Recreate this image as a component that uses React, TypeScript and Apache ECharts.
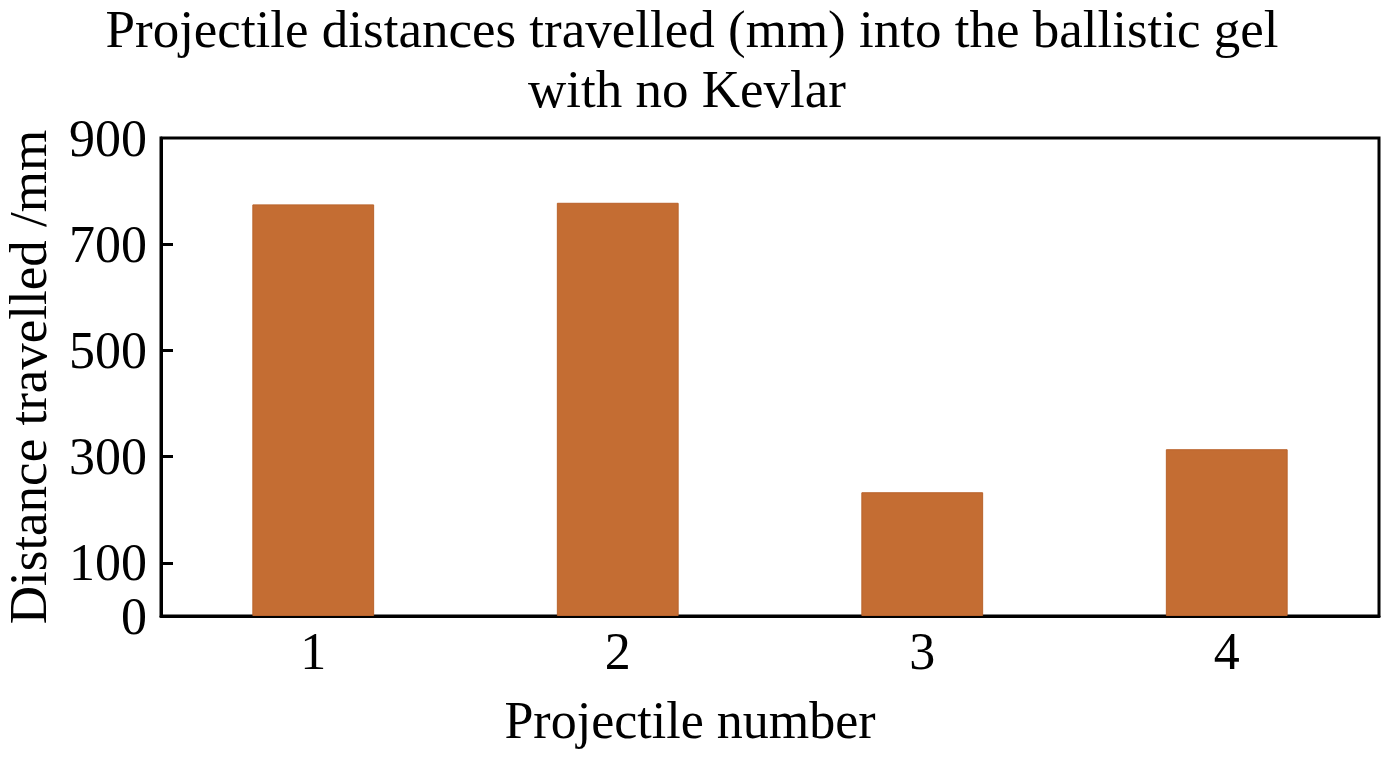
import React, { useEffect, useRef } from "react";
import * as echarts from "echarts";

const categories = ["1", "2", "3", "4"];
const distances = [775, 778, 233, 314];
const yLabelValues = [0, 100, 300, 500, 700, 900];
const yTickValues = [100, 300, 500, 700];
const titleLine1 = "Projectile distances travelled (mm) into the ballistic gel";
const titleLine2 = "with no Kevlar";
const xName = "Projectile number";
const yName = "Distance travelled /mm";

const FONT = "'Liberation Serif', 'Times New Roman', serif";

const titleStyle = {
  fontFamily: FONT,
  fontSize: 53,
  lineHeight: 48,
  fontWeight: "normal",
  color: "#000",
};

export default function App() {
  const ref = useRef<HTMLDivElement>(null);
  useEffect(() => {
    if (!ref.current) return;
    const chart = echarts.init(ref.current, undefined, { renderer: "svg" });
    chart.setOption({
      animation: false,
      backgroundColor: "#ffffff",
      title: [
        {
          text: titleLine1,
          left: 692,
          textAlign: "center",
          top: 5,
          padding: 0,
          textStyle: titleStyle,
        },
        {
          text: titleLine2,
          left: 687,
          textAlign: "center",
          top: 65,
          padding: 0,
          textStyle: titleStyle,
        },
      ],
      grid: {
        left: 161,
        right: 7,
        top: 138,
        bottom: 155,
        show: true,
        borderColor: "#000",
        borderWidth: 3,
        backgroundColor: "transparent",
        containLabel: false,
        outerBoundsMode: "none",
      },
      xAxis: {
        type: "category",
        data: categories,
        boundaryGap: true,
        name: xName,
        nameLocation: "middle",
        nameGap: 78,
        nameTextStyle: {
          fontFamily: FONT,
          fontSize: 52,
          color: "#000",
          padding: [0, 160, 0, 0],
        },
        axisLine: { show: true, lineStyle: { color: "#000", width: 3 } },
        axisTick: { show: false },
        axisLabel: {
          fontFamily: FONT,
          fontSize: 52,
          color: "#000",
          margin: 9,
        },
        splitLine: { show: false },
      },
      yAxis: {
        type: "value",
        min: 0,
        max: 900,
        interval: 100,
        name: yName,
        nameLocation: "middle",
        nameRotate: 90,
        nameGap: 107,
        nameTextStyle: {
          fontFamily: FONT,
          fontSize: 53,
          color: "#000",
        },
        axisLine: { show: true, lineStyle: { color: "#000", width: 3 } },
        axisTick: {
          show: true,
          inside: true,
          length: 12,
          lineStyle: { color: "#000", width: 3 },
          customValues: yTickValues,
        },
        axisLabel: {
          fontFamily: FONT,
          fontSize: 52,
          color: "#000",
          margin: 14,
          customValues: yLabelValues,
        },
        splitLine: { show: false },
      },
      series: [
        {
          type: "bar",
          data: distances,
          barWidth: "40%",
          itemStyle: {
            color: "#C46D33",
            borderColor: "#B9622B",
            borderWidth: 1,
          },
        },
      ],
    });
    return () => chart.dispose();
  }, []);
  return (
    <div
      ref={ref}
      style={{ position: "fixed", left: 0, top: 0, width: 1386, height: 771 }}
    />
  );
}
